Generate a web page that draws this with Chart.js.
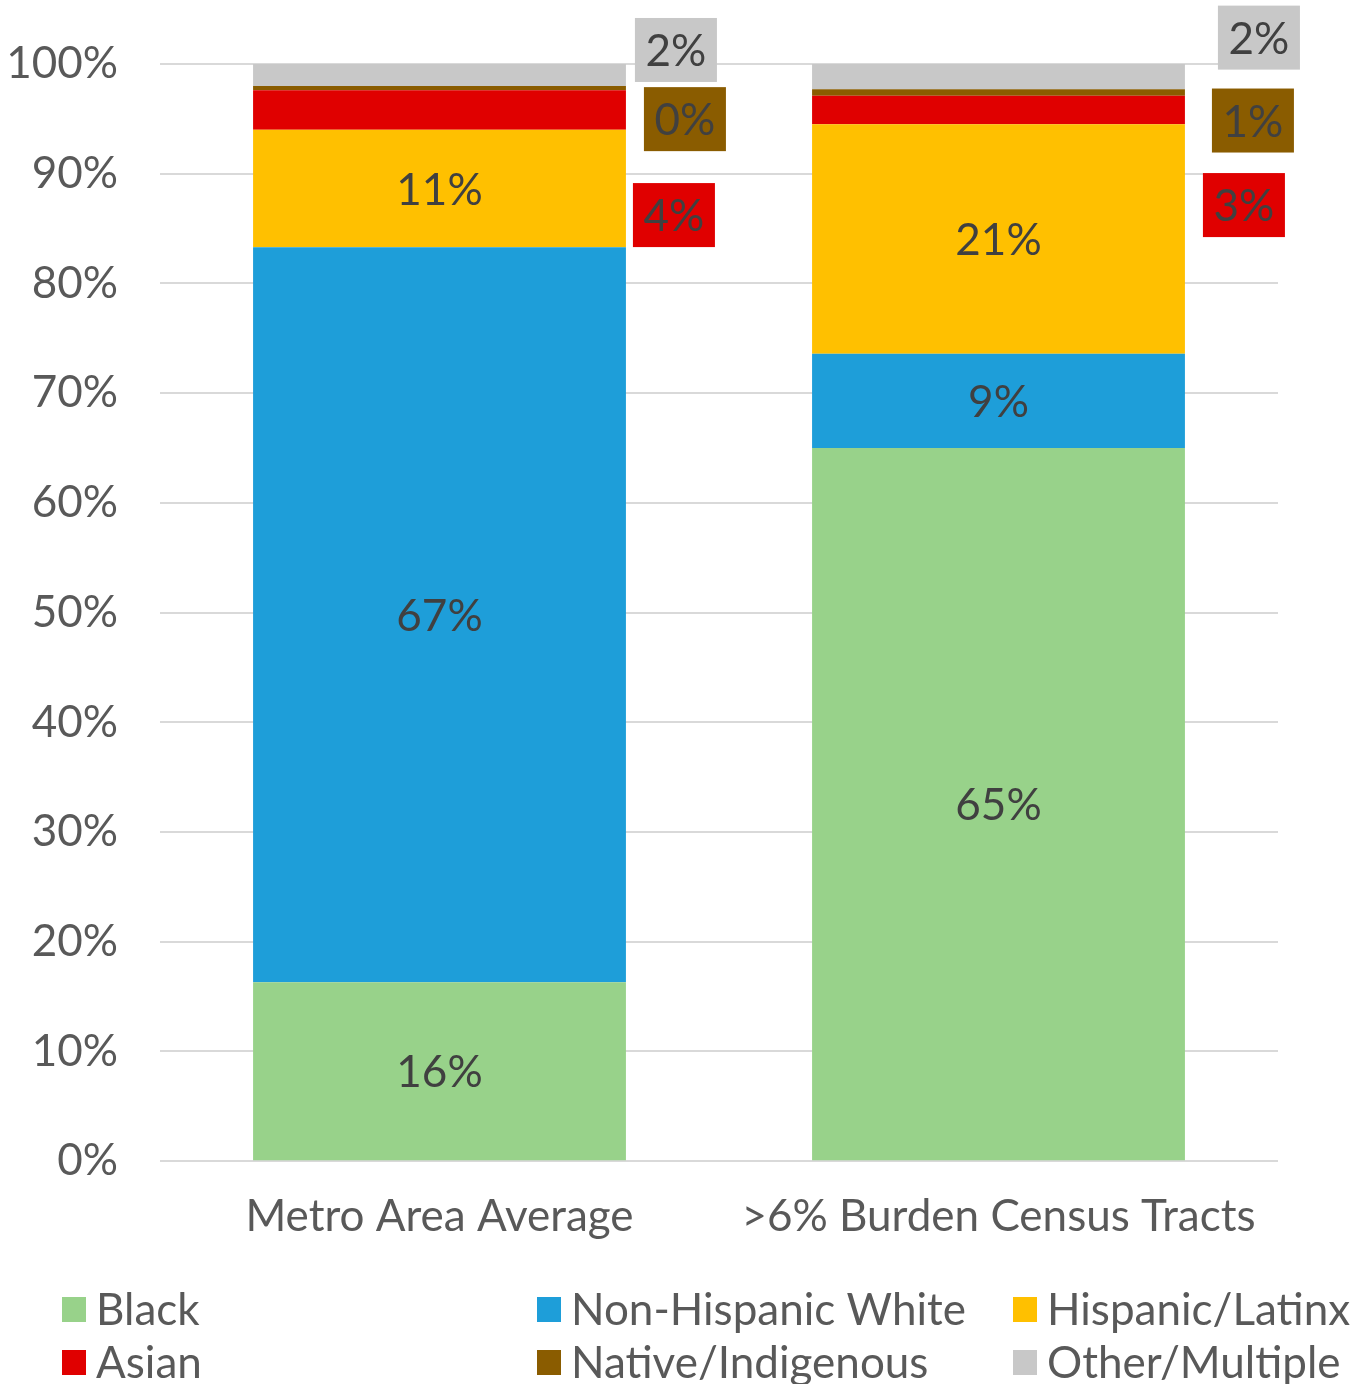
<!DOCTYPE html>
<html>
<head>
<meta charset="utf-8">
<script src="https://cdn.jsdelivr.net/npm/chart.js@4.4.1/dist/chart.umd.min.js"></script>
<style>
  html, body { margin: 0; padding: 0; background: #fff; }
  #wrap { width: 1365px; height: 1384px; position: relative; }
</style>
</head>
<body>
<div id="wrap"><canvas id="raceChart"></canvas></div>
<script>
// --- data (percent of population) ---
const categories = ['Metro Area Average', '>6% Burden Census Tracts'];
const seriesNames = ['Black', 'Non-Hispanic White', 'Hispanic/Latinx', 'Asian', 'Native/Indigenous', 'Other/Multiple'];
const blackVals = [16.3, 65.0];
const whiteVals = [67.0, 8.6];
const hispanicVals = [10.7, 20.9];
const asianVals = [3.6, 2.6];
const nativeVals = [0.4, 0.6];
const otherVals = [2.0, 2.3];
const yTickValues = [0, 10, 20, 30, 40, 50, 60, 70, 80, 90, 100];

// --- styling ---
const seriesColors = ['#98d28a', '#1e9ed9', '#ffc000', '#e00000', '#8a5c00', '#c8c8c8'];
const FONT = 'Lato, "Open Sans", sans-serif';
const LABEL_COLOR = '#404040';
const AXIS_COLOR = '#595959';

// callout boxes for the thin top segments: [dx from bar right edge, dy from segment middle]
const calloutOffsets = {
    3: [[48, 105], [59, 95]],
    4: [[59, 31], [68, 28]],
    5: [[50, -25], [74, -39]]
};

const allSeries = [blackVals, whiteVals, hispanicVals, asianVals, nativeVals, otherVals];

const segLabels = {
    id: 'segLabels',
    afterDatasetsDraw(chart) {
        const ctx = chart.ctx;
        ctx.save();
        ctx.font = '44px ' + FONT;
        ctx.textAlign = 'center';
        ctx.textBaseline = 'middle';
        chart.data.datasets.forEach((ds, di) => {
            const meta = chart.getDatasetMeta(di);
            meta.data.forEach((bar, i) => {
                const txt = Math.round(ds.data[i]) + '%';
                const midY = (bar.y + bar.base) / 2;
                const off = calloutOffsets[di];
                if (off) {
                    const cx = bar.x + bar.width / 2 + off[i][0];
                    const cy = midY + off[i][1];
                    ctx.fillStyle = seriesColors[di];
                    ctx.fillRect(cx - 41, cy - 32, 82, 64);
                    ctx.fillStyle = LABEL_COLOR;
                    ctx.fillText(txt, cx, cy + 2);
                } else {
                    ctx.fillStyle = LABEL_COLOR;
                    ctx.fillText(txt, bar.x, midY + 2);
                }
            });
        });
        ctx.restore();
    }
};

// legend drawn by hand so it sits in three columns like the original
const gridLegend = {
    id: 'gridLegend',
    afterDraw(chart) {
        const ctx = chart.ctx;
        const colX = [62, 537, 1013];
        const rowY = [1309, 1362];
        ctx.save();
        ctx.font = '44px ' + FONT;
        ctx.textAlign = 'left';
        ctx.textBaseline = 'middle';
        seriesNames.forEach((name, k) => {
            const x = colX[k % 3];
            const y = rowY[Math.floor(k / 3)];
            ctx.fillStyle = seriesColors[k];
            ctx.fillRect(x, y - 12, 24, 25);
            ctx.fillStyle = AXIS_COLOR;
            ctx.fillText(name, x + 34, y + 2);
        });
        ctx.restore();
    }
};

const ctx = document.getElementById('raceChart').getContext('2d');
new Chart(ctx, {
    type: 'bar',
    data: {
        labels: categories,
        datasets: seriesNames.map((name, k) => ({
            label: name,
            data: allSeries[k],
            backgroundColor: seriesColors[k],
            borderWidth: 0,
            barPercentage: 0.667,
            categoryPercentage: 1.0
        }))
    },
    options: {
        responsive: true,
        maintainAspectRatio: false,
        animation: false,
        layout: { padding: { top: 64, right: 87, bottom: 120, left: 0 } },
        scales: {
            x: {
                stacked: true,
                grid: { display: false },
                border: { display: false },
                ticks: { color: AXIS_COLOR, font: { family: FONT, size: 44 }, padding: 21 }
            },
            y: {
                stacked: true,
                min: 0,
                max: 100,
                afterBuildTicks: (scale) => { scale.ticks = yTickValues.map(v => ({ value: v })); },
                afterFit: (scale) => { scale.width = 160; },
                // invisible tick marks give the label gap without padding the top of the plot
                grid: { color: '#d9d9d9', lineWidth: 2, drawTicks: true, tickLength: 38, tickColor: 'rgba(0,0,0,0)' },
                border: { display: false },
                ticks: {
                    color: AXIS_COLOR,
                    font: { family: FONT, size: 44 },
                    padding: 4,
                    callback: v => v + '%'
                }
            }
        },
        plugins: {
            legend: { display: false },
            tooltip: { enabled: false }
        }
    },
    plugins: [segLabels, gridLegend]
});
</script>
</body>
</html>
